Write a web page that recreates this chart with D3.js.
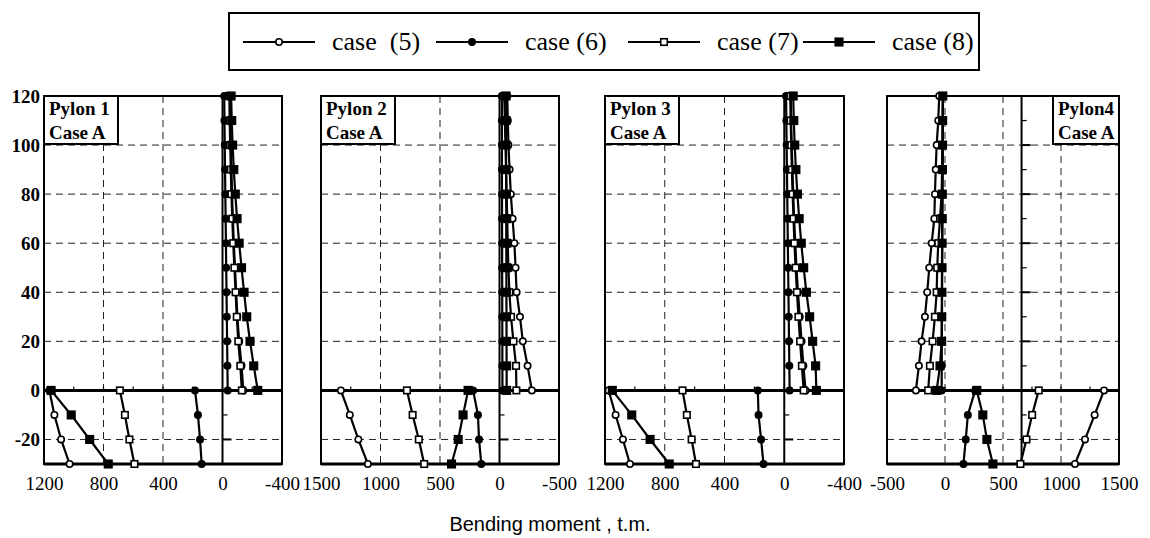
<!DOCTYPE html>
<html>
<head>
<meta charset="utf-8">
<script src="https://cdn.jsdelivr.net/npm/d3@7"></script>
<style>
body { margin: 0; background: #fff; }
svg { display: block; font-family: "Liberation Serif", "Times New Roman", serif; }
</style>
</head>
<body>
<div id="chart"></div>
<script>
var width = 1150,
    height = 538;

// heights (m) for tower part and the part below deck
var heightsUp = [0, 10, 20, 30, 40, 50, 60, 70, 80, 90, 100, 110, 120];
var heightsDown = [0, -10, -20, -30];

var caseNames = ['case  (5)', 'case (6)', 'case (7)', 'case (8)'];
var markerTypes = ['circleOpen', 'circle', 'squareOpen', 'square'];
var pylonNames = ['Pylon 1', 'Pylon 2', 'Pylon 3', 'Pylon4'];
var caseLabel = 'Case A';

var xTickValues = [
  [1200, 800, 400, 0, -400],
  [1500, 1000, 500, 0, -500],
  [1200, 800, 400, 0, -400],
  [-500, 0, 500, 1000, 1500]
];
var yTickValues = [120, 100, 80, 60, 40, 20, 0, -20];
var yGridValues = [100, 80, 60, 40, 20, -20];
var xGridValues = [[800, 400], [1000, 500], [800, 400], [0, 500, 1000]];
var axisAt = [0, 0, 0, 660];

// bending moments (t.m), order: case 5, case 6, case 7, case 8
var pylon1Up = [
  [-140, -128, -112, -100, -92, -84, -76, -70, -64, -60, -56, -52, -50],
  [-35, -33, -31, -29, -27, -25, -23, -21, -19, -17, -15, -13, -12],
  [-130, -120, -106, -96, -88, -80, -72, -66, -60, -56, -52, -48, -46],
  [-237, -210, -185, -163, -145, -128, -112, -98, -86, -76, -68, -62, -58]
];
var pylon1Down = [
  [1164, 1130, 1085, 1028],
  [185, 165, 151, 140],
  [690, 656, 626, 592],
  [1152, 1017, 893, 768]
];
var pylon2Up = [
  [-272, -236, -196, -172, -144, -135, -125, -110, -95, -85, -75, -70, -65],
  [-25, -24, -24, -23, -23, -22, -22, -21, -21, -20, -20, -20, -20],
  [-142, -139, -117, -97, -83, -75, -69, -65, -60, -55, -50, -45, -40],
  [-60, -60, -59, -59, -58, -58, -57, -57, -56, -56, -55, -55, -55]
];
var pylon2Down = [
  [1333, 1258, 1186, 1106],
  [222, 181, 172, 153],
  [778, 730, 678, 633],
  [264, 306, 347, 403]
];
var pylon3Up = [
  [-143, -128, -116, -104, -92, -82, -74, -66, -60, -55, -50, -46, -44],
  [-36, -34, -32, -30, -28, -26, -24, -22, -20, -18, -16, -14, -12],
  [-130, -118, -106, -95, -85, -76, -68, -62, -56, -51, -47, -43, -41],
  [-215, -210, -190, -170, -148, -130, -114, -100, -88, -78, -70, -64, -60]
];
var pylon3Down = [
  [1176, 1129, 1080, 1033],
  [177, 172, 155, 139],
  [681, 652, 620, 591],
  [1151, 1021, 898, 770]
];
var pylon4Up = [
  [-251, -225, -202, -173, -153, -136, -115, -92, -87, -80, -72, -58, -50],
  [-29, -28, -27, -26, -25, -24, -23, -22, -21, -20, -19, -18, -17],
  [-145, -130, -107, -87, -72, -67, -58, -43, -29, -25, -22, -20, -18],
  [-72, -43, -29, -28, -27, -26, -25, -24, -23, -22, -21, -20, -19]
];
var pylon4Down = [
  [1371, 1290, 1207, 1120],
  [260, 197, 179, 159],
  [808, 751, 702, 650],
  [274, 326, 361, 413]
];

var upData = [pylon1Up, pylon2Up, pylon3Up, pylon4Up];
var downData = [pylon1Down, pylon2Down, pylon3Down, pylon4Down];

// layout
var panelLeft = [44, 321, 605, 887],
    panelRight = [282, 559, 844, 1119],
    plotTop = 96,
    plotBottom = 464;

var svg = d3.select('#chart').append('svg')
    .attr('width', width)
    .attr('height', height);

var y = d3.scaleLinear()
    .domain([-30, 120])
    .range([plotBottom, plotTop]);

var line = d3.line();
var plainNumber = function(d) { return String(d); };

function drawMarker(g, type, px, py) {
  if (type == 'circleOpen' || type == 'circle') {
    g.append('circle')
      .attr('cx', px).attr('cy', py).attr('r', 3.2)
      .attr('fill', type == 'circle' ? '#000' : '#fff')
      .attr('stroke', '#000').attr('stroke-width', 1.6);
  } else {
    var s = type == 'square' ? 7.5 : 6.5;
    g.append('rect')
      .attr('x', px - s / 2).attr('y', py - s / 2)
      .attr('width', s).attr('height', s)
      .attr('fill', type == 'square' ? '#000' : '#fff')
      .attr('stroke', '#000').attr('stroke-width', 1.6);
  }
}

pylonNames.forEach(function(name, p) {
  var ticks = xTickValues[p];
  var x = d3.scaleLinear()
      .domain([ticks[0], ticks[ticks.length - 1]])
      .range([panelLeft[p], panelRight[p]]);

  var g = svg.append('g').attr('class', 'panel');

  // dashed grid
  g.selectAll('.hgrid')
    .data(yGridValues)
    .enter().append('line')
      .attr('x1', panelLeft[p]).attr('x2', panelRight[p])
      .attr('y1', function(d) { return y(d); })
      .attr('y2', function(d) { return y(d); })
      .attr('stroke', '#222').attr('stroke-width', 1)
      .attr('stroke-dasharray', '7,5');
  g.selectAll('.vgrid')
    .data(xGridValues[p])
    .enter().append('line')
      .attr('y1', plotTop).attr('y2', plotBottom)
      .attr('x1', function(d) { return x(d); })
      .attr('x2', function(d) { return x(d); })
      .attr('stroke', '#222').attr('stroke-width', 1)
      .attr('stroke-dasharray', '7,5');

  // frame
  g.append('rect')
    .attr('x', panelLeft[p]).attr('y', plotTop)
    .attr('width', panelRight[p] - panelLeft[p])
    .attr('height', plotBottom - plotTop)
    .attr('fill', 'none').attr('stroke', '#000').attr('stroke-width', 2);
  g.append('line')
    .attr('x1', panelLeft[p]).attr('x2', panelRight[p])
    .attr('y1', plotBottom).attr('y2', plotBottom)
    .attr('stroke', '#000').attr('stroke-width', 3);
  g.append('line')
    .attr('x1', panelLeft[p]).attr('x2', panelRight[p])
    .attr('y1', y(0)).attr('y2', y(0))
    .attr('stroke', '#000').attr('stroke-width', 3);

  // small ticks on the zero line
  var step = Math.abs(ticks[1] - ticks[0]) / 2;
  var minor = d3.range(Math.min(ticks[0], ticks[4]) + step, Math.max(ticks[0], ticks[4]), step);
  g.selectAll('.ztick')
    .data(minor)
    .enter().append('line')
      .attr('x1', function(d) { return x(d); })
      .attr('x2', function(d) { return x(d); })
      .attr('y1', y(0)).attr('y2', y(0) - 4)
      .attr('stroke', '#000').attr('stroke-width', 1.2);

  // vertical axis line inside the panel
  var ax = x(axisAt[p]);
  g.append('line')
    .attr('x1', ax).attr('x2', ax)
    .attr('y1', plotTop).attr('y2', plotBottom)
    .attr('stroke', '#000').attr('stroke-width', 2);
  g.selectAll('.atick')
    .data(d3.range(-20, 120, 10))
    .enter().append('line')
      .attr('x1', ax)
      .attr('x2', function(d) { return ax + (d % 20 == 0 ? 9 : 5); })
      .attr('y1', function(d) { return y(d); })
      .attr('y2', function(d) { return y(d); })
      .attr('stroke', '#000').attr('stroke-width', function(d) { return d % 20 == 0 ? 2 : 1.2; });

  // series
  [upData[p], downData[p]].forEach(function(part, k) {
    var hs = k == 0 ? heightsUp : heightsDown;
    part.forEach(function(vals, c) {
      var pts = vals.map(function(v, i) { return [x(v), y(hs[i])]; });
      g.append('path')
        .attr('d', line(pts))
        .attr('fill', 'none')
        .attr('stroke', '#000')
        .attr('stroke-width', 2.2);
      pts.forEach(function(pt) { drawMarker(g, markerTypes[c], pt[0], pt[1]); });
    });
  });

  // x axis labels
  g.append('g')
    .attr('transform', 'translate(0,' + plotBottom + ')')
    .call(d3.axisBottom(x).tickValues(ticks).tickSize(0).tickPadding(13).tickFormat(plainNumber))
    .call(function(a) { a.select('.domain').remove(); })
    .selectAll('text')
      .attr('font-family', '"Liberation Serif", serif')
      .attr('font-size', 19)
      .attr('fill', '#000');

  // pylon label box
  var bw = p == 3 ? 66 : 74,
      bx = p == 3 ? panelRight[p] - bw : panelLeft[p];
  g.append('rect')
    .attr('x', bx).attr('y', plotTop)
    .attr('width', bw).attr('height', 48)
    .attr('fill', '#fff').attr('stroke', '#000').attr('stroke-width', 2);
  g.append('text')
    .attr('x', bx + 5).attr('y', plotTop + 19)
    .attr('font-size', 19).attr('font-weight', 'bold')
    .text(name);
  g.append('text')
    .attr('x', bx + 5).attr('y', plotTop + 43)
    .attr('font-size', 19).attr('font-weight', 'bold')
    .text(caseLabel);
});

// y axis, only at the left panel
svg.append('g')
  .attr('transform', 'translate(' + panelLeft[0] + ',0)')
  .call(d3.axisLeft(y).tickValues(yTickValues).tickSize(0).tickPadding(4).tickFormat(plainNumber))
  .call(function(a) { a.select('.domain').remove(); })
  .selectAll('text')
    .attr('font-family', '"Liberation Serif", serif')
    .attr('font-size', 19)
    .attr('font-weight', 'bold')
    .attr('fill', '#000');

// axis title
svg.append('text')
  .attr('x', 550).attr('y', 531)
  .attr('text-anchor', 'middle')
  .attr('font-family', '"Liberation Sans", sans-serif')
  .attr('font-size', 20)
  .text('Bending moment , t.m.');

// legend
var legendX = [243, 436, 628, 803];
var legend = svg.append('g').attr('class', 'legend');
legend.append('rect')
  .attr('x', 229).attr('y', 13)
  .attr('width', 750).attr('height', 57)
  .attr('fill', '#fff').attr('stroke', '#000').attr('stroke-width', 2);
caseNames.forEach(function(name, i) {
  var lx = legendX[i];
  legend.append('line')
    .attr('x1', lx).attr('x2', lx + 72)
    .attr('y1', 42).attr('y2', 42)
    .attr('stroke', '#000').attr('stroke-width', 2);
  drawMarker(legend, markerTypes[i], lx + 36, 42);
  legend.append('text')
    .attr('x', lx + 89).attr('y', 50)
    .attr('font-size', 26)
    .attr('xml:space', 'preserve')
    .style('white-space', 'pre')
    .text(name);
});
</script>
</body>
</html>
